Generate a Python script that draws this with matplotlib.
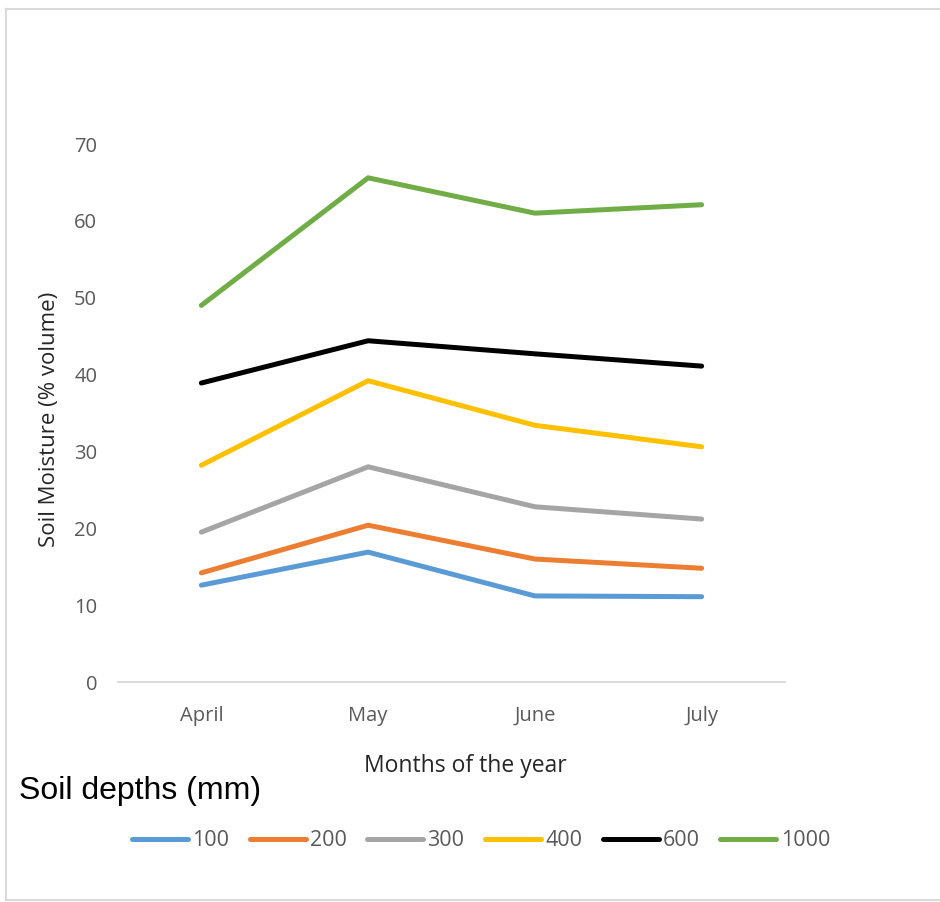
import matplotlib
matplotlib.use("Agg")
import matplotlib.pyplot as plt
from matplotlib.lines import Line2D

months = ["April", "May", "June", "July"]
depths = ["100", "200", "300", "400", "600", "1000"]
d100 = [12.6, 16.9, 11.2, 11.1]
d200 = [14.2, 20.4, 16.0, 14.8]
d300 = [19.5, 28.0, 22.8, 21.2]
d400 = [28.2, 39.2, 33.4, 30.6]
d600 = [38.9, 44.4, 42.7, 41.1]
d1000 = [49.0, 65.6, 61.0, 62.1]
series = [d100, d200, d300, d400, d600, d1000]
colors = ["#5B9BD5", "#ED7D31", "#A5A5A5", "#FFC000", "#000000", "#70AD47"]
yticks = [0, 10, 20, 30, 40, 50, 60, 70]

W, H = 940, 902
fig = plt.figure(figsize=(W / 100, H / 100), dpi=100)
tickfont = ["Open Sans", "DejaVu Sans"]
gray = "#595959"

ax = fig.add_axes([118 / W, (H - 682) / H, (785 - 118) / W, (682 - 144) / H])
x = list(range(len(months)))
for vals, c, lab in zip(series, colors, depths):
    ax.plot(x, vals, color=c, lw=3.6, solid_capstyle="round", solid_joinstyle="round", label=lab)

ax.set_xlim(-0.5, 3.5)
ax.set_ylim(0, 70)
ax.set_yticks(yticks)
ax.set_xticks(x)
ax.set_xticklabels(months)
for s in ["top", "right", "left"]:
    ax.spines[s].set_visible(False)
ax.spines["bottom"].set_color("#d9d9d9")
ax.spines["bottom"].set_linewidth(1.3)
ax.tick_params(axis="both", length=0, colors=gray, labelsize=14.5)
ax.tick_params(axis="y", pad=15)
ax.tick_params(axis="x", pad=17)
for t in ax.get_xticklabels() + ax.get_yticklabels():
    t.set_family(tickfont)

fig.text(50 / W, 1 - 419 / H, "Soil Moisture (% volume)", rotation=90, ha="center", va="center",
         fontsize=16, color="#262626", family=tickfont)
fig.text(465 / W, 1 - 766 / H, "Months of the year", ha="center", va="center",
         fontsize=16.5, color="#262626", family=tickfont)
fig.text(19 / W, 1 - 791 / H, "Soil depths (mm)", ha="left", va="center",
         fontsize=23, color="black", family=["Liberation Sans", "DejaVu Sans"])

handles, labels = ax.get_legend_handles_labels()
leg = fig.legend(handles, labels, loc="center", bbox_to_anchor=(481 / W, 1 - 841 / H), ncol=6,
                 frameon=False, handlelength=2.6, handletextpad=0.2, columnspacing=0.95,
                 prop={"family": tickfont, "size": 15.5})
for t in leg.get_texts():
    t.set_color(gray)

# outer frame (left, top, bottom edges visible)
x0, x1 = 5.5 / W, 1.05
y0, y1 = 1 - 900 / H, 1 - 8.5 / H
for xs, ys in [([x0, x0], [y0, y1]), ([x0, x1], [y1, y1]), ([x0, x1], [y0, y0])]:
    fig.add_artist(Line2D(xs, ys, transform=fig.transFigure, color="#d9d9d9", lw=1.5))

fig.savefig("out.png", dpi=100)
